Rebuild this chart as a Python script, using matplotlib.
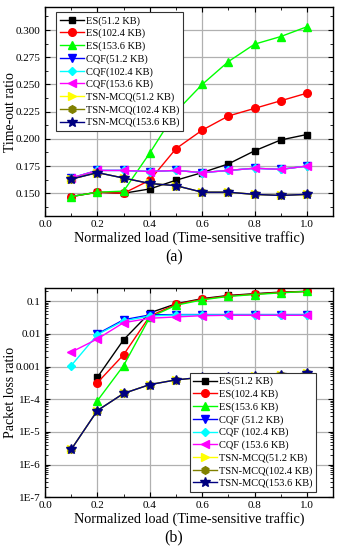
import matplotlib
matplotlib.use("Agg")
import matplotlib.pyplot as plt
from matplotlib.ticker import FixedLocator, MultipleLocator, NullFormatter

plt.rcParams['font.family'] = ['Liberation Serif', 'DejaVu Serif']
plt.rcParams['mathtext.fontset'] = 'stix'

load = [0.1, 0.2, 0.3, 0.4, 0.5, 0.6, 0.7, 0.8, 0.9, 1.0]

# (a) time-out ratio
to_es_51 = [0.147, 0.151, 0.150, 0.154, 0.162, 0.169, 0.177, 0.189, 0.199, 0.204]
to_es_102 = [0.147, 0.151, 0.150, 0.162, 0.191, 0.208, 0.221, 0.228, 0.235, 0.242]
to_es_153 = [0.147, 0.151, 0.152, 0.187, 0.225, 0.250, 0.271, 0.287, 0.294, 0.303]
to_cqf_51 = [0.164, 0.171, 0.171, 0.170, 0.171, 0.169, 0.171, 0.173, 0.172, 0.175]
to_cqf_102 = [0.164, 0.171, 0.171, 0.170, 0.171, 0.169, 0.171, 0.173, 0.172, 0.175]
to_cqf_153 = [0.164, 0.171, 0.171, 0.170, 0.171, 0.169, 0.171, 0.173, 0.172, 0.175]
to_mcq_51 = [0.163, 0.169, 0.164, 0.159, 0.157, 0.151, 0.151, 0.149, 0.148, 0.149]
to_mcq_102 = [0.163, 0.169, 0.164, 0.159, 0.157, 0.151, 0.151, 0.149, 0.148, 0.149]
to_mcq_153 = [0.163, 0.169, 0.164, 0.159, 0.157, 0.151, 0.151, 0.149, 0.148, 0.149]

# (b) packet loss ratio (None = not plotted)
pl_es_51 = [None, 4.7e-4, 6.6e-3, 0.044, 0.083, 0.12, 0.15, 0.17, 0.19, 0.20]
pl_es_102 = [None, 3.2e-4, 2.3e-3, 0.035, 0.080, 0.115, 0.145, 0.165, 0.185, 0.20]
pl_es_153 = [None, 9.0e-5, 1.07e-3, 0.032, 0.075, 0.11, 0.14, 0.16, 0.18, 0.20]
pl_cqf_51 = [None, 0.010, 0.027, 0.038, 0.039, 0.039, 0.039, 0.039, 0.039, 0.039]
pl_cqf_102 = [1.07e-3, 0.0095, 0.025, 0.035, 0.038, 0.038, 0.038, 0.038, 0.038, 0.038]
pl_cqf_153 = [2.75e-3, 0.007, 0.022, 0.030, 0.033, 0.036, 0.037, 0.037, 0.037, 0.037]
pl_mcq_51 = [2.9e-6, 4.5e-5, 1.5e-4, 2.8e-4, 3.9e-4, 4.7e-4, 4.9e-4, 5.2e-4, 5.6e-4, 6.2e-4]
pl_mcq_102 = [2.9e-6, 4.5e-5, 1.5e-4, 2.8e-4, 3.9e-4, 4.7e-4, 4.9e-4, 5.2e-4, 5.6e-4, 6.2e-4]
pl_mcq_153 = [2.9e-6, 4.5e-5, 1.5e-4, 2.8e-4, 3.9e-4, 4.7e-4, 4.9e-4, 5.2e-4, 5.6e-4, 6.2e-4]

labels_a = ['ES(51.2 KB)', 'ES(102.4 KB)', 'ES(153.6 KB)',
            'CQF(51.2 KB)', 'CQF(102.4 KB)', 'CQF(153.6 KB)',
            'TSN-MCQ(51.2 KB)', 'TSN-MCQ(102.4 KB)', 'TSN-MCQ(153.6 KB)']
labels_b = ['ES(51.2 KB)', 'ES(102.4 KB)', 'ES(153.6 KB)',
            'CQF (51.2 KB)', 'CQF (102.4 KB)', 'CQF (153.6 KB)',
            'TSN-MCQ(51.2 KB)', 'TSN-MCQ(102.4 KB)', 'TSN-MCQ(153.6 KB)']

colors = ['#000000', '#ff0000', '#00ff00', '#0000ff', '#00ffff', '#ff00ff',
          '#ffff00', '#808000', '#000080']
markers = ['s', 'o', '^', 'v', 'D', '<', '>', 'h', '*']
msizes = [5, 5.5, 6, 5.5, 4.5, 5.5, 5.5, 5.5, 7]

series_a = [to_es_51, to_es_102, to_es_153, to_cqf_51, to_cqf_102, to_cqf_153,
            to_mcq_51, to_mcq_102, to_mcq_153]
series_b = [pl_es_51, pl_es_102, pl_es_153, pl_cqf_51, pl_cqf_102, pl_cqf_153,
            pl_mcq_51, pl_mcq_102, pl_mcq_153]

fig = plt.figure(figsize=(3.41, 5.5), dpi=100)
ax1 = fig.add_axes([0.132, 0.607, 0.845, 0.380])
ax2 = fig.add_axes([0.132, 0.096, 0.845, 0.380])

def style(ax):
    ax.grid(True, color='#b0b0b0', linewidth=0.9)
    ax.set_axisbelow(True)
    ax.tick_params(which='both', direction='in', top=True, right=True, labelsize=8, pad=3)
    ax.tick_params(which='major', length=3.5)
    ax.tick_params(which='minor', length=2)
    for s in ax.spines.values():
        s.set_linewidth(1.0)
    ax.set_xlim(0, 1.1)
    ax.xaxis.set_major_locator(FixedLocator([0.0, 0.2, 0.4, 0.6, 0.8, 1.0]))
    ax.xaxis.set_minor_locator(MultipleLocator(0.1))
    ax.set_xticklabels(['0.0', '0.2', '0.4', '0.6', '0.8', '1.0'])
    ax.set_xlabel('Normalized load (Time-sensitive traffic)', fontsize=10.3, labelpad=1)
    ax.yaxis.set_label_coords(-0.097, 0.5)

for i in range(9):
    ax1.plot(load, series_a[i], color=colors[i], marker=markers[i], markersize=msizes[i],
             linewidth=1.0, label=labels_a[i], markeredgecolor=colors[i])
ax1.set_ylabel('Time-out ratio', fontsize=10)
style(ax1)
ax1.set_ylim(0.129, 0.321)
ax1.yaxis.set_major_locator(FixedLocator([0.150, 0.175, 0.200, 0.225, 0.250, 0.275, 0.300]))
ax1.yaxis.set_minor_locator(MultipleLocator(0.0125))
ax1.set_yticklabels(['0.150', '0.175', '0.200', '0.225', '0.250', '0.275', '0.300'])
leg1 = ax1.legend(loc='upper left', bbox_to_anchor=(0.02, 1.0), fontsize=7.5, handlelength=2.3,
                  labelspacing=0.3, borderpad=0.35, handletextpad=0.2, fancybox=False,
                  framealpha=1, edgecolor='#333333')
leg1.get_frame().set_linewidth(0.8)

for i in range(9):
    xs = [x for x, v in zip(load, series_b[i]) if v is not None]
    ys = [v for v in series_b[i] if v is not None]
    ax2.plot(xs, ys, color=colors[i], marker=markers[i], markersize=msizes[i],
             linewidth=1.0, label=labels_b[i], markeredgecolor=colors[i])
ax2.set_ylabel('Packet loss ratio', fontsize=10)
style(ax2)
ax2.set_yscale('log')
ax2.set_ylim(1e-7, 0.25)
ax2.yaxis.set_major_locator(FixedLocator([1e-7, 1e-6, 1e-5, 1e-4, 1e-3, 1e-2, 1e-1]))
ax2.set_yticklabels(['1E-7', '1E-6', '1E-5', '1E-4', '0.001', '0.01', '0.1'])
ax2.yaxis.set_minor_formatter(NullFormatter())
leg2 = ax2.legend(loc='lower right', bbox_to_anchor=(0.96, 0.0), fontsize=7.5, handlelength=2.3,
                  labelspacing=0.3, borderpad=0.35, handletextpad=0.2, fancybox=False,
                  framealpha=1, edgecolor='#333333')
leg2.get_frame().set_linewidth(0.8)

fig.text(0.51, 1 - 257 / 550, '(a)', ha='center', va='center', fontsize=11.5)
fig.text(0.51, 1 - 537 / 550, '(b)', ha='center', va='center', fontsize=11.5)

fig.savefig('out.png', dpi=100)
